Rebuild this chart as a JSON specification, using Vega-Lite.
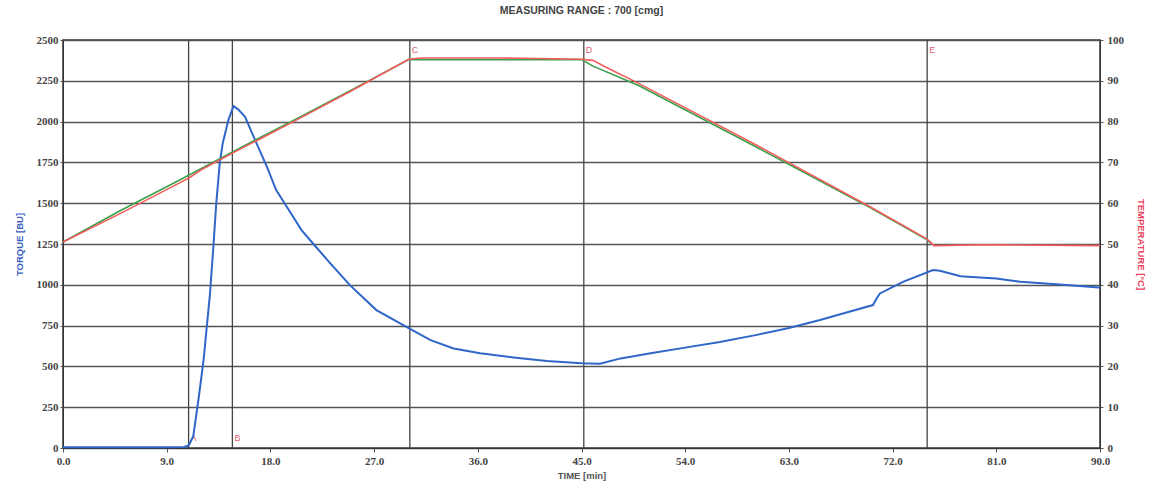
{
  "$schema": "https://vega.github.io/schema/vega-lite/v6.json",
  "autosize": {"type": "none"},
  "width": 1037,
  "height": 408,
  "padding": {"left": 63, "top": 40, "right": 56, "bottom": 41},
  "background": "white",
  "title": {"text": "MEASURING RANGE : 700 [cmg]", "fontSize": 10.5, "font": "Liberation Sans", "fontWeight": "bold", "color": "#444", "offset": 18, "anchor": "middle"},
  "config": {
    "view": {"stroke": "#333", "strokeWidth": 1.5},
    "axis": {"labelFont": "Liberation Sans Narrow", "labelFontWeight": "bold", "labelFontSize": 11, "labelColor": "#444", "titleFont": "Liberation Sans", "titleFontWeight": "bold", "titleFontSize": 9.5, "tickColor": "#555", "domainColor": "#333", "gridColor": "#555", "gridWidth": 1.3, "gridOpacity": 1}
  },
  "datasets": {
    "torque": [
      {"t": 0, "bu": 5}, {"t": 5, "bu": 5}, {"t": 9, "bu": 5}, {"t": 10.5, "bu": 6}, {"t": 10.9, "bu": 15},
      {"t": 11.3, "bu": 70}, {"t": 11.75, "bu": 294}, {"t": 12.2, "bu": 539}, {"t": 12.76, "bu": 947},
      {"t": 13.05, "bu": 1233}, {"t": 13.3, "bu": 1498}, {"t": 13.6, "bu": 1743}, {"t": 13.86, "bu": 1866},
      {"t": 14.35, "bu": 2010}, {"t": 14.8, "bu": 2095}, {"t": 15.2, "bu": 2075}, {"t": 15.8, "bu": 2029},
      {"t": 16.8, "bu": 1866}, {"t": 17.7, "bu": 1723}, {"t": 18.5, "bu": 1580}, {"t": 19.6, "bu": 1458},
      {"t": 20.7, "bu": 1335}, {"t": 21.7, "bu": 1253}, {"t": 23.2, "bu": 1131}, {"t": 24.9, "bu": 998},
      {"t": 27.2, "bu": 845}, {"t": 30.0, "bu": 735}, {"t": 31.9, "bu": 661}, {"t": 33.9, "bu": 610},
      {"t": 36.2, "bu": 580}, {"t": 39.1, "bu": 555}, {"t": 42.0, "bu": 533}, {"t": 45.0, "bu": 519},
      {"t": 46.6, "bu": 517}, {"t": 48.4, "bu": 549}, {"t": 51, "bu": 580}, {"t": 54, "bu": 615},
      {"t": 57, "bu": 650}, {"t": 60, "bu": 690}, {"t": 63, "bu": 735}, {"t": 65.7, "bu": 784},
      {"t": 68, "bu": 830}, {"t": 70.3, "bu": 876}, {"t": 70.6, "bu": 915}, {"t": 70.9, "bu": 947},
      {"t": 72.9, "bu": 1018}, {"t": 75.5, "bu": 1090}, {"t": 76.1, "bu": 1086}, {"t": 77.9, "bu": 1053},
      {"t": 79.6, "bu": 1045}, {"t": 81, "bu": 1038}, {"t": 83.1, "bu": 1018}, {"t": 86.5, "bu": 1002},
      {"t": 89.9, "bu": 984}, {"t": 90, "bu": 982}
    ],
    "tempActual": [
      {"t": 0, "c": 50.5}, {"t": 5, "c": 57.5}, {"t": 10, "c": 64.8},
      {"t": 11, "c": 66.3}, {"t": 12, "c": 68.2}, {"t": 15, "c": 72.7},
      {"t": 20, "c": 80}, {"t": 25, "c": 87.5}, {"t": 30, "c": 95.3},
      {"t": 31, "c": 95.6}, {"t": 38, "c": 95.6}, {"t": 45, "c": 95.3},
      {"t": 46, "c": 95}, {"t": 47, "c": 93.5}, {"t": 50, "c": 89.3},
      {"t": 60, "c": 74.5}, {"t": 70, "c": 59.2}, {"t": 75, "c": 51.2},
      {"t": 75.6, "c": 49.6}, {"t": 80, "c": 49.8}, {"t": 90, "c": 49.6}
    ],
    "tempSet": [
      {"t": 0, "c": 50.5}, {"t": 5, "c": 58.2}, {"t": 10, "c": 65.5},
      {"t": 15, "c": 73}, {"t": 20, "c": 80.3}, {"t": 25, "c": 87.7},
      {"t": 30, "c": 95.2}, {"t": 45, "c": 95.2}, {"t": 46, "c": 93.6},
      {"t": 50, "c": 88.8}, {"t": 60, "c": 74}, {"t": 70, "c": 59},
      {"t": 75, "c": 51}, {"t": 75.3, "c": 50.2}
    ],
    "events": [
      {"t": 10.9, "label": "A", "yv": 60},
      {"t": 14.7, "label": "B", "yv": 60},
      {"t": 30.1, "label": "C", "yv": 2440},
      {"t": 45.2, "label": "D", "yv": 2440},
      {"t": 75.0, "label": "E", "yv": 2440}
    ]
  },
  "layer": [
    {
      "layer": [
        {
          "data": {"name": "events"},
          "mark": {"type": "rule", "color": "#444", "strokeWidth": 1.3},
          "encoding": {
            "x": {"field": "t", "type": "quantitative", "scale": {"domain": [0, 90], "nice": false}, "axis": {"values": [0, 9, 18, 27, 36, 45, 54, 63, 72, 81, 90], "format": ".1f", "grid": false, "title": "TIME [min]", "titleColor": "#555", "titlePadding": 4, "tickSize": 4, "labelPadding": 3, "labelFlush": false}}
          }
        },
        {
          "data": {"name": "events"},
          "mark": {"type": "text", "color": "#e06070", "fontSize": 9, "font": "Liberation Sans", "align": "left", "dx": 2},
          "encoding": {
            "x": {"field": "t", "type": "quantitative", "scale": {"domain": [0, 90], "nice": false}, "axis": {"values": [0, 9, 18, 27, 36, 45, 54, 63, 72, 81, 90], "format": ".1f", "grid": false, "title": "TIME [min]", "titleColor": "#555", "titlePadding": 4, "tickSize": 4, "labelPadding": 3, "labelFlush": false}},
            "y": {"field": "yv", "type": "quantitative"},
            "text": {"field": "label"}
          }
        },
        {
          "data": {"name": "torque"},
          "mark": {"type": "line", "color": "#2f66c8", "strokeWidth": 2},
          "encoding": {
            "x": {"field": "t", "type": "quantitative", "scale": {"domain": [0, 90], "nice": false}, "axis": {"values": [0, 9, 18, 27, 36, 45, 54, 63, 72, 81, 90], "format": ".1f", "grid": false, "title": "TIME [min]", "titleColor": "#555", "titlePadding": 4, "tickSize": 4, "labelPadding": 3, "labelFlush": false}},
            "y": {"field": "bu", "type": "quantitative", "scale": {"domain": [0, 2500], "nice": false}, "axis": {"values": [0, 250, 500, 750, 1000, 1250, 1500, 1750, 2000, 2250, 2500], "format": "d", "title": "TORQUE [BU]", "titleColor": "#3a5fc0", "titlePadding": 12, "tickSize": 3, "labelPadding": 2, "grid": true, "labelFlush": false}}
          }
        }
      ]
    },
    {
      "layer": [
        {
          "data": {"name": "tempSet"},
          "mark": {"type": "line", "strokeWidth": 1.6, "color": "#3aa04a"},
          "encoding": {
            "x": {"field": "t", "type": "quantitative", "scale": {"domain": [0, 90], "nice": false}, "axis": {"values": [0, 9, 18, 27, 36, 45, 54, 63, 72, 81, 90], "format": ".1f", "grid": false, "title": "TIME [min]", "titleColor": "#555", "titlePadding": 4, "tickSize": 4, "labelPadding": 3, "labelFlush": false}},
            "y": {"field": "c", "type": "quantitative", "scale": {"domain": [0, 100], "nice": false}, "axis": {"orient": "right", "values": [0, 10, 20, 30, 40, 50, 60, 70, 80, 90, 100], "format": "d", "title": "TEMPERATURE [°C]", "titleColor": "#e8405a", "titlePadding": 12, "tickSize": 3, "labelPadding": 4, "grid": false, "labelFlush": false}}
          }
        },
        {
          "data": {"name": "tempActual"},
          "mark": {"type": "line", "strokeWidth": 1.6, "color": "#f25c5c"},
          "encoding": {
            "x": {"field": "t", "type": "quantitative", "scale": {"domain": [0, 90], "nice": false}, "axis": {"values": [0, 9, 18, 27, 36, 45, 54, 63, 72, 81, 90], "format": ".1f", "grid": false, "title": "TIME [min]", "titleColor": "#555", "titlePadding": 4, "tickSize": 4, "labelPadding": 3, "labelFlush": false}},
            "y": {"field": "c", "type": "quantitative", "scale": {"domain": [0, 100], "nice": false}, "axis": {"orient": "right", "values": [0, 10, 20, 30, 40, 50, 60, 70, 80, 90, 100], "format": "d", "title": "TEMPERATURE [°C]", "titleColor": "#e8405a", "titlePadding": 12, "tickSize": 3, "labelPadding": 4, "grid": false, "labelFlush": false}}
          }
        }
      ]
    }
  ],
  "resolve": {"scale": {"y": "independent"}}
}
